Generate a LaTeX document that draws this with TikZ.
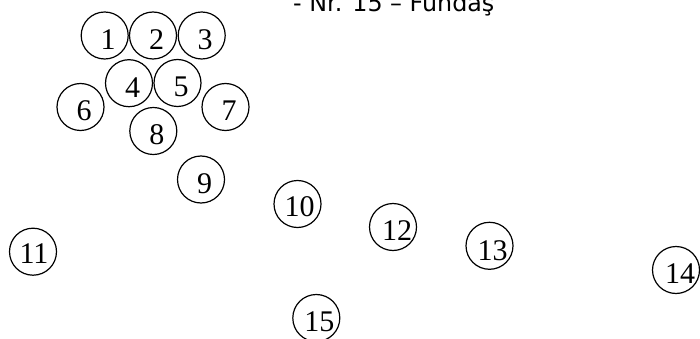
\documentclass[tikz,border=0pt]{standalone}
\usepackage{fontspec}
\setmainfont{Liberation Serif}
\newfontfamily\titlefont{DejaVu Sans}
\begin{document}
\begin{tikzpicture}[x=1pt, y=-1pt, line join=round, line cap=round,
    ball/.style={circle, draw, line width=1.2pt, minimum size=47pt, inner sep=0pt},
    num/.style={inner sep=0pt, font=\fontsize{30}{30}\selectfont}]
    \useasboundingbox (0,0) rectangle (700,339);
    \node[anchor=base west, inner sep=0pt, font=\titlefont\fontsize{23.8}{24}\selectfont] (title) at (293,11.7) {- Nr. 15 – Fundaş};
    % tufe: nr / x / y / decalaj text
    \foreach \n/\x/\y/\dx/\dy in {1/104.7/35.5/3.5/4, 2/153/35.5/3.5/4, 3/201.7/35.5/3.5/4,
        4/129/83.2/3.5/4, 5/177.5/83/3.5/4, 6/80.5/107/3.5/4, 7/225.5/107/3.5/4,
        8/153.3/131/3.5/4, 9/201/179.5/3.5/4, 10/297.5/204/2/3, 11/33/251.7/1/2,
        12/393/227/4/4, 13/489.5/245.8/3/4.5, 14/676/270/4/4, 15/316.3/318/3/3.7}{
        \node[ball] (b\n) at (\x,\y) {};
        \node[num] (n\n) at ([shift={(\dx,\dy)}]b\n.center) {\n};
    }
\end{tikzpicture}
\end{document}
